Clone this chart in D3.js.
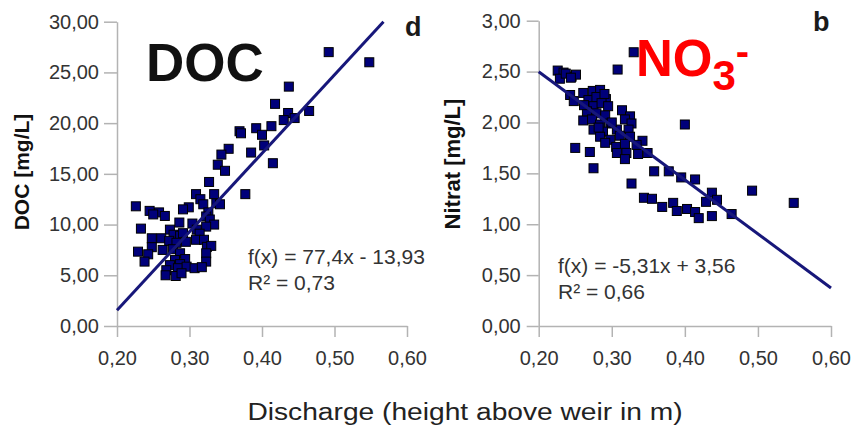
<!DOCTYPE html>
<html>
<head>
<meta charset="utf-8">
<script src="https://cdn.jsdelivr.net/npm/d3@7/dist/d3.min.js"></script>
<style>
  html, body { margin: 0; padding: 0; background: #fff; }
  svg { display: block; }
  text { font-family: "Liberation Sans", Arial, sans-serif; }
</style>
</head>
<body>
<svg id="chart" width="854" height="431"></svg>
<script>
// ---------- data ----------
const xTicks = [0.2, 0.3, 0.4, 0.5, 0.6];
const docTicks = [0, 5, 10, 15, 20, 25, 30];
const no3Ticks = [0, 0.5, 1.0, 1.5, 2.0, 2.5, 3.0];

const docX = [0.492,0.548,0.437,0.418,0.436,0.465,0.445,0.430,0.413,0.369,0.371,0.392,0.400,0.403,0.385,0.415,0.354,0.344,0.339,0.349,0.327,0.377,0.309,0.334,
  0.315,0.319,0.337,0.342,0.299,0.291,0.226,0.245,0.258,0.250,0.266,0.326,0.323,0.328,0.286,0.304,0.334,0.233,0.273,0.310,0.323,0.278,0.287,0.291,0.314,0.248,0.261,0.272,0.309,0.320,0.282,0.295,0.248,0.263,0.277,0.324,0.330,0.229,0.243,0.287,0.323,0.238,0.280,0.294,0.323,0.273,0.287,0.268,0.284,0.296,0.307,0.317,0.267,0.281,0.289];
const docY = [27.0,26.0,23.6,21.9,21.0,21.2,20.5,20.3,19.7,19.2,19.0,19.5,18.85,17.8,17.1,16.05,17.47,16.9,15.9,15.3,14.2,13.0,13.0,13.0,
  12.5,12.0,12.1,12.0,11.7,11.5,11.8,11.35,11.2,11.0,10.85,11.2,10.8,10.5,10.2,10.1,10.0,9.6,9.5,9.5,9.8,9.0,8.9,9.15,9.1,8.65,8.65,8.4,8.5,8.5,8.2,8.3,7.77,7.5,7.57,7.8,7.9,7.33,7.07,7.17,7.17,6.35,6.5,6.6,6.35,6.0,6.1,5.5,5.7,5.85,5.7,5.8,5.0,4.93,5.2];

const no3X = [0.330,0.308,0.226,0.234,0.229,0.245,0.251,0.243,0.248,0.261,0.261,0.250,0.270,0.275,0.400,0.327,0.358,0.378,0.395,0.414,0.344,0.355,0.369,0.384,0.389,0.403,0.414,0.419,0.437,0.437,0.429,0.444,0.464,0.492,0.549,0.342,0.336,0.349,
  0.237,0.244,0.274,0.284,0.268,0.279,0.292,0.275,0.286,0.295,0.266,0.279,0.291,0.314,0.325,0.273,0.284,0.298,0.318,0.327,0.275,0.288,0.307,0.323,0.284,0.298,0.311,0.325,0.291,0.306,0.318,0.334,0.307,0.320,0.318,0.262,0.290,0.300,0.282];
const no3Y = [2.69,2.52,2.51,2.49,2.43,2.45,2.47,2.27,2.21,2.29,2.02,1.75,1.71,1.55,1.98,1.40,1.52,1.52,1.46,1.44,1.26,1.25,1.17,1.21,1.13,1.15,1.12,1.06,1.08,1.31,1.22,1.24,1.10,1.33,1.21,1.82,1.69,1.70,
  2.48,2.44,2.31,2.32,2.22,2.25,2.23,2.16,2.19,2.16,2.11,2.09,2.07,2.12,2.06,2.03,1.98,1.99,2.03,1.99,1.93,1.91,1.93,1.93,1.86,1.83,1.87,1.86,1.80,1.76,1.79,1.78,1.70,1.70,1.64,2.17,2.28,2.00,1.95];

const docFit = [77.4, -13.93];   // slope, intercept
const no3Fit = [-5.31, 3.56];

const comma = v => d3.format(".2f")(v).replace(".", ",");

// ---------- drawing ----------
const svg = d3.select("#chart");
const AXIS = "#b3b3b3", MARK = "#00007a", LINE = "#17177a", TXT = "#333";

function panel(o) {
  const g = svg.append("g");
  const x = d3.scaleLinear().domain([0.2, 0.6]).range([o.x0, o.x1]);
  const y = d3.scaleLinear().domain([0, o.yMax]).range([326, o.yTop]);

  const ya = g.append("g").attr("transform", `translate(${o.x0},0)`)
    .call(d3.axisLeft(y).tickValues(o.yTicks).tickFormat(comma).tickSize(o.tick).tickSizeOuter(0).tickPadding(o.pad));
  const xa = g.append("g").attr("transform", "translate(0,326)")
    .call(d3.axisBottom(x).tickValues(xTicks).tickFormat(comma).tickSize(11).tickSizeOuter(0).tickPadding(14));
  [ya, xa].forEach(a => {
    a.select(".domain").attr("stroke", AXIS).attr("stroke-width", 1.5);
    a.selectAll(".tick line").attr("stroke", AXIS).attr("stroke-width", 1.5);
    a.selectAll(".tick text").attr("fill", TXT).style("font-size", "20px")
      .style("font-family", '"Liberation Sans", Arial, sans-serif');
  });

  const s = 9;
  g.append("g").selectAll("rect").data(o.xs.map((v, i) => [v, o.ys[i]])).join("rect")
    .attr("x", d => x(d[0]) - s / 2).attr("y", d => y(d[1]) - s / 2)
    .attr("width", s).attr("height", s)
    .attr("fill", MARK).attr("stroke", "#000").attr("stroke-width", 1);

  const [a, b] = o.fit;
  let xe = 0.6;
  if (a * xe + b > o.yMax) xe = (o.yMax - b) / a;
  g.append("line")
    .attr("x1", x(0.2)).attr("y1", y(a * 0.2 + b))
    .attr("x2", x(xe)).attr("y2", y(a * xe + b))
    .attr("stroke", LINE).attr("stroke-width", 3);

  g.append("text").attr("transform", `translate(${o.titleX},${o.titleY}) rotate(-90)`)
    .attr("text-anchor", "middle").style("font-size", o.titleSize + "px").style("font-weight", "bold")
    .attr("fill", "#111").text(o.title);

  g.append("text").attr("x", o.eqX).attr("y", o.eqY).style("font-size", "21px").attr("fill", TXT).text(o.eq);
  g.append("text").attr("x", o.eqX).attr("y", o.eqY + 26).style("font-size", "21px").attr("fill", TXT).text(o.r2);

  g.append("text").attr("x", o.letterX).attr("y", o.letterY).style("font-size", "27px")
    .style("font-weight", "bold").attr("fill", "#1a1a1a").text(o.letter);
  return g;
}

panel({ x0: 117, x1: 407, yTop: 21.7, yMax: 30, yTicks: docTicks, tick: 13, pad: 5,
  xs: docX, ys: docY, fit: docFit, title: "DOC [mg/L]", titleX: 29, titleY: 172, titleSize: 21,
  eq: "f(x) = 77,4x - 13,93", r2: "R² = 0,73", eqX: 248, eqY: 264, letter: "d", letterX: 405, letterY: 36 });

panel({ x0: 538.7, x1: 831, yTop: 20.7, yMax: 3, yTicks: no3Ticks, tick: 12, pad: 6,
  xs: no3X, ys: no3Y, fit: no3Fit, title: "Nitrat [mg/L]", titleX: 460, titleY: 164, titleSize: 22,
  eq: "f(x) = -5,31x + 3,56", r2: "R² = 0,66", eqX: 558, eqY: 273, letter: "b", letterX: 813, letterY: 31 });

// big labels
svg.append("text").attr("x", 146).attr("y", 81).style("font-size", "53px").style("font-weight", "bold")
  .attr("fill", "#111").text("DOC");

const no3 = svg.append("text").attr("x", 636).attr("y", 76).style("font-size", "51px")
  .style("font-weight", "bold").attr("fill", "#ff0000");
no3.append("tspan").text("NO");
no3.append("tspan").attr("dy", 14).style("font-size", "42px").text("3");
no3.append("tspan").attr("dy", -25).style("font-size", "40px").text("-");

svg.append("text").attr("transform", "translate(465,420) scale(1.15,1)").attr("text-anchor", "middle")
  .style("font-size", "24.5px").attr("fill", "#222").text("Discharge (height above weir in m)");
</script>
</body>
</html>
